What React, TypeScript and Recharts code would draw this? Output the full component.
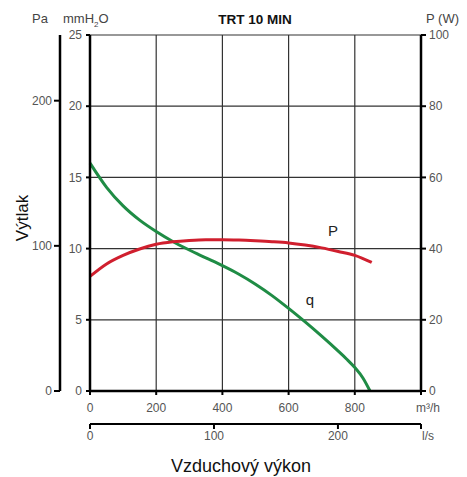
import React from 'react';
import {
  ComposedChart,
  Line,
  XAxis,
  YAxis,
  CartesianGrid,
} from 'recharts';

// airflow m3/h vs pressure mmH2O (curve q)
const qFlow = [0, 50, 100, 150, 200, 250, 300, 350, 400, 450, 500, 550, 600, 650, 700, 750, 775, 800, 825, 846];
const qPressure = [16.0, 14.3, 13.0, 12.0, 11.2, 10.5, 9.9, 9.35, 8.8, 8.2, 7.5, 6.7, 5.8, 4.85, 3.85, 2.8, 2.25, 1.65, 0.9, 0];

// airflow m3/h vs power W (curve P)
const pFlow = [0, 50, 100, 150, 200, 250, 300, 350, 400, 450, 500, 550, 600, 650, 700, 750, 800, 851];
const pPower = [32.2, 35.7, 38.1, 39.9, 41.2, 41.9, 42.3, 42.5, 42.5, 42.4, 42.2, 41.95, 41.6, 41.0, 40.2, 39.2, 38.1, 36.1];

const m3Ticks = [0, 200, 400, 600, 800, 1000];
const lsTicks = [0, 100, 200, 267];
const mmTicks = [0, 5, 10, 15, 20, 25];
const paTicks = [0, 100, 200];
const wTicks = [0, 20, 40, 60, 80, 100];

// axis extents (l/s, Pa) so the secondary scales get built
const lsExtent = [0, 267];
const paExtent = [0, 245.25];

const qData = qFlow.map((x, i) => ({ x, y: qPressure[i] }));
const pData = pFlow.map((x, i) => ({ x, y: pPower[i] }));
const anchorData = lsExtent.map((x, i) => ({ x, y: paExtent[i] }));

const FONT = '"Liberation Sans", Arial, sans-serif';
const tickStyle = { fontSize: 12, fill: '#555', fontFamily: FONT };

const BottomTick = (props: any) => {
  const { x, y, payload, unit, unitValue } = props;
  const isUnit = payload.value === unitValue;
  return (
    <text
      x={x + (isUnit ? 7 : 0)}
      y={y}
      dy="0.71em"
      textAnchor="middle"
      fontSize={12}
      fill="#555"
      fontFamily={FONT}
    >
      {isUnit ? unit : payload.value}
    </text>
  );
};

const txt = (s: React.CSSProperties): React.CSSProperties => ({
  position: 'absolute',
  fontFamily: FONT,
  fontSize: 13,
  color: '#444',
  whiteSpace: 'nowrap',
  lineHeight: 1,
  ...s,
});

export default function App() {
  return (
    <div style={{ position: 'absolute', left: 0, top: 0, width: 467, height: 477, background: '#fff' }}>
      <ComposedChart width={467} height={477} margin={{ top: 35, right: 6, left: 30, bottom: 28 }}>
        <CartesianGrid xAxisId="x1" yAxisId="y1" stroke="#333" strokeWidth={1.2} />
        <XAxis
          xAxisId="x1"
          type="number"
          dataKey="x"
          domain={[0, 1000]}
          ticks={m3Ticks}
          height={33}
          tick={<BottomTick unit="m³/h" unitValue={1000} />}
          tickSize={4}
          tickMargin={8}
          axisLine={{ stroke: '#000', strokeWidth: 2.5 }}
          tickLine={{ stroke: '#000', strokeWidth: 2 }}
        />
        <XAxis
          xAxisId="x2"
          type="number"
          dataKey="x"
          domain={[0, 267]}
          ticks={lsTicks}
          height={25}
          tick={<BottomTick unit="l/s" unitValue={267} />}
          tickSize={5}
          tickMargin={2}
          axisLine={{ stroke: '#000', strokeWidth: 2 }}
          tickLine={{ stroke: '#000', strokeWidth: 2 }}
        />
        <YAxis
          yAxisId="y1"
          type="number"
          domain={[0, 25]}
          ticks={mmTicks}
          width={30}
          tick={tickStyle}
          tickSize={4}
          tickMargin={4}
          axisLine={{ stroke: '#000', strokeWidth: 2.5 }}
          tickLine={{ stroke: '#000', strokeWidth: 2 }}
        />
        <YAxis
          yAxisId="y2"
          type="number"
          domain={[0, 245.25]}
          ticks={paTicks}
          width={30}
          tick={tickStyle}
          tickSize={6}
          tickMargin={2}
          axisLine={{ stroke: '#000', strokeWidth: 2.5 }}
          tickLine={{ stroke: '#000', strokeWidth: 2 }}
        />
        <YAxis
          yAxisId="y3"
          orientation="right"
          type="number"
          domain={[0, 100]}
          ticks={wTicks}
          width={40}
          tick={tickStyle}
          tickSize={5}
          tickMargin={3}
          axisLine={{ stroke: '#000', strokeWidth: 2.5 }}
          tickLine={{ stroke: '#000', strokeWidth: 2 }}
        />
        <Line
          xAxisId="x2"
          yAxisId="y2"
          data={anchorData}
          dataKey="y"
          stroke="none"
          dot={false}
          activeDot={false}
          isAnimationActive={false}
        />
        <Line
          xAxisId="x1"
          yAxisId="y1"
          data={qData}
          dataKey="y"
          type="monotone"
          stroke="#1f8c45"
          strokeWidth={3}
          dot={false}
          isAnimationActive={false}
        />
        <Line
          xAxisId="x1"
          yAxisId="y3"
          data={pData}
          dataKey="y"
          type="monotone"
          stroke="#d01f2e"
          strokeWidth={3}
          dot={false}
          isAnimationActive={false}
        />
      </ComposedChart>
      <div style={txt({ left: 255, top: 13, transform: 'translateX(-50%)', fontWeight: 'bold', fontSize: 13.5, color: '#111' })}>TRT 10 MIN</div>
      <div style={txt({ left: 32, top: 12 })}>Pa</div>
      <div style={txt({ left: 63, top: 12 })}>mmH<sub style={{ fontSize: 8 }}>2</sub>O</div>
      <div style={txt({ left: 426, top: 12 })}>P (W)</div>
      <div style={txt({ left: 22, top: 218, fontSize: 17, color: '#111', transform: 'translate(-50%, -50%) rotate(-90deg)' })}>Výtlak</div>
      <div style={txt({ left: 241, top: 466, fontSize: 18, color: '#111', transform: 'translate(-50%, -50%)' })}>Vzduchový výkon</div>
      <div style={txt({ left: 333, top: 230, fontSize: 15, color: '#222', transform: 'translate(-50%, -50%)' })}>P</div>
      <div style={txt({ left: 310, top: 299, fontSize: 15, color: '#222', transform: 'translate(-50%, -50%)' })}>q</div>
    </div>
  );
}
